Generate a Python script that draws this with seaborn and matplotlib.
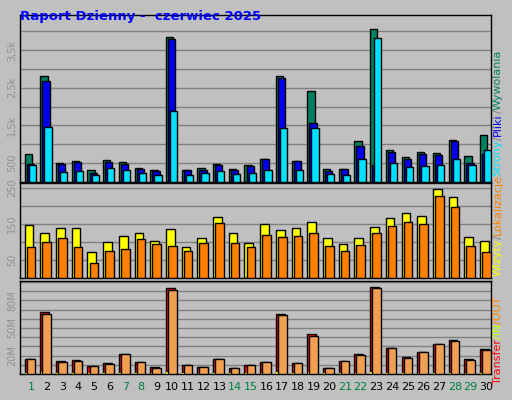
import matplotlib
matplotlib.use("Agg")
import matplotlib.pyplot as plt
import seaborn as sns
import numpy as np

sns.set_style("white")
plt.rcParams['font.family'] = ['DejaVu Sans']

days = list(range(1, 31))
weekend = [1, 7, 8, 14, 15, 21, 22, 28, 29]
hits = [730, 2805, 495, 550, 310, 575, 520, 370, 310, 3850, 310, 370, 480, 345, 450,
        610, 2805, 550, 2405, 335, 335, 1080, 4050, 840, 655, 790, 760, 1105, 680, 1240]
files = [470, 2670, 470, 520, 230, 530, 485, 335, 285, 3790, 310, 320, 440, 310, 415,
         610, 2750, 550, 1560, 285, 335, 945, 440, 790, 600, 735, 710, 1080, 495, 735]
pages = [460, 1450, 265, 285, 185, 365, 310, 230, 185, 1875, 185, 230, 285, 205, 230,
         310, 1425, 310, 1425, 205, 185, 600, 3815, 495, 390, 415, 440, 600, 440, 840]
visits = [147, 125, 139, 139, 72, 100, 117, 125, 103, 136, 86, 111, 169, 125, 97,
          150, 133, 139, 155, 111, 94, 111, 142, 167, 181, 172, 247, 225, 114, 103]
sites = [86, 100, 111, 86, 42, 75, 81, 108, 94, 89, 75, 97, 153, 97, 86,
         120, 114, 117, 125, 89, 75, 92, 125, 144, 155, 150, 228, 197, 89, 72]
transfer = [16.8, 67.4, 13.7, 14.7, 8.4, 11.6, 22.1, 12.6, 7.4, 93.7, 9.5, 7.4, 15.8, 6.3, 9.5,
            12.6, 65.3, 11.6, 43.2, 6.3, 13.7, 22.1, 94.7, 28.4, 18.9, 24.2, 32.6, 36.8, 15.8, 27.4]
out_mb = [16.8, 65.3, 12.6, 13.7, 8.4, 10.5, 22.1, 12.6, 6.3, 91.6, 9.5, 7.4, 15.8, 6.3, 9.5,
          12.6, 64.2, 11.6, 41.1, 6.3, 13.7, 21.1, 93.7, 28.4, 17.9, 24.2, 32.6, 35.8, 14.7, 26.3]
in_mb = [1, 2, 1, 1, 1, 1, 1, 1, 1, 2, 1, 1, 1, 1, 1,
         1, 2, 1, 2, 1, 1, 1, 2, 1, 1, 1, 1, 1, 1, 1]

BG = "#c0c0c0"
fig = plt.figure(figsize=(5.12, 4.0), dpi=100, facecolor=BG)
x = np.array(days, dtype=float)
X0 = 0.35

def setup(ax, ylim, grid, ticks, labels):
    ax.set_facecolor(BG)
    ax.set_xlim(X0, X0 + 30)
    ax.set_ylim(0, ylim)
    for g in grid:
        ax.axhline(g, color="#808080", lw=1, zorder=0)
    ax.set_yticks(ticks)
    ax.set_yticklabels(labels, rotation=90, va="center", fontsize=7, color="#909090")
    ax.tick_params(length=0, pad=2)
    ax.set_xticks([])
    for s in ax.spines.values():
        s.set_color("black")
        s.set_linewidth(1)

kw = dict(edgecolor="black", linewidth=1, align="edge")
ax1 = fig.add_axes([0.039, 0.545, 0.92, 0.4175])
setup(ax1, 4430, range(500, 4500, 500), [500, 1500, 2500, 3500], ["500", "1,5k", "2,5k", "3,5k"])
ax1.bar(x - 0.35, hits, width=0.46, color="#008060", zorder=2, **kw)
ax1.bar(x - 0.22, files, width=0.46, color="#0000ee", zorder=3, **kw)
ax1.bar(x - 0.09, pages, width=0.46, color="#00e0ff", zorder=4, **kw)

ax2 = fig.add_axes([0.039, 0.305, 0.92, 0.2375])
setup(ax2, 264, [50, 100, 150, 200, 250], [50, 150, 250], ["50", "150", "250"])
ax2.bar(x - 0.35, visits, width=0.55, color="#ffff00", zorder=2, **kw)
ax2.bar(x - 0.22, sites, width=0.55, color="#ff8000", zorder=3, **kw)

ax3 = fig.add_axes([0.039, 0.065, 0.92, 0.2325])
setup(ax3, 101, range(10, 101, 10), [20, 50, 80], ["20M", "50M", "80M"])
ax3.bar(x - 0.35, transfer, width=0.55, color="#ff0000", zorder=2, **kw)
ax3.bar(x - 0.33, in_mb, width=0.12, color="#c0ff00", zorder=3, edgecolor="none", align="edge")
ax3.bar(x - 0.22, out_mb, width=0.55, color="#f0a050", zorder=4, **kw)

for d in days:
    fig.text(0.039 + 0.92 * (d + 0.05 - X0) / 30, 0.032, str(d), ha="center", va="center",
             fontsize=8, color="#008040" if d in weekend else "black")

fig.text(0.04, 0.975, "Raport Dzienny -  czerwiec 2025", color="#0000ff", fontsize=9.5,
         fontweight="bold", va="top", ha="left")

def vlabel(parts, y0):
    y = y0
    r = fig.canvas.get_renderer()
    for s, c in parts:
        t = fig.text(0.972, y, s, rotation=90, color=c, fontsize=8, ha="center", va="bottom")
        bb = t.get_window_extent(renderer=r)
        y += bb.height / 400

vlabel([("Transfer", "#ff0000"), ("/IN", "#c0ff00"), ("/OUT", "#ff8000")], 0.04)
vlabel([("Wizyty", "#ffff00"), ("/", "#808080"), ("Lokalizacje", "#ff8000")], 0.31)
vlabel([("Strony", "#00e0ff"), ("/", "#808080"), ("Pliki", "#0000ee"), ("/", "#808080"), ("Wywolania", "#008060")], 0.56)

fig.savefig("out.png", dpi=100, facecolor=BG)
